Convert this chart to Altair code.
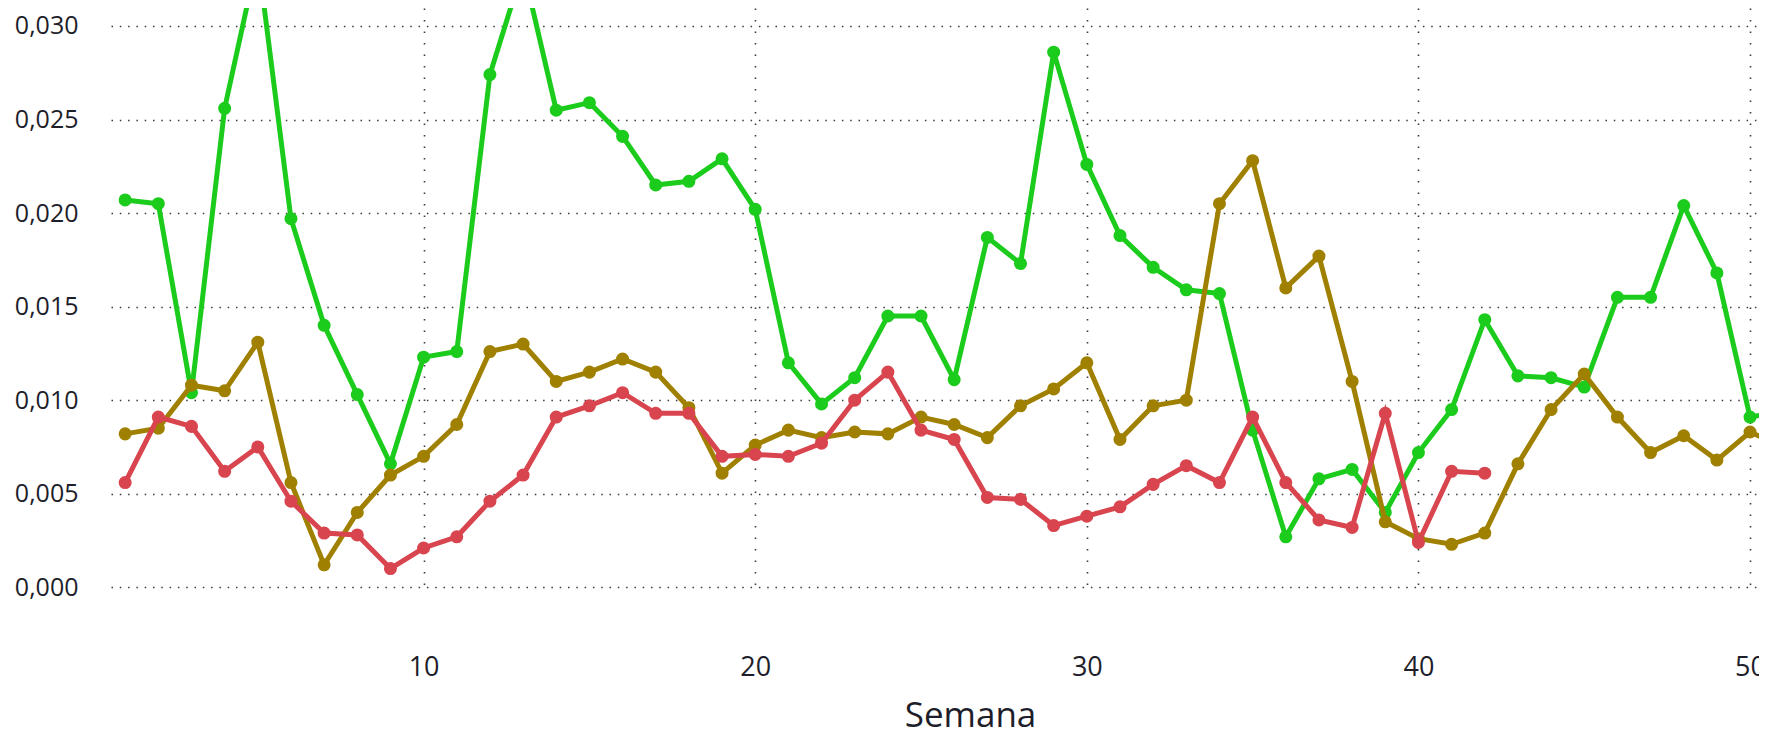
import altair as alt
import pandas as pd

weeks = list(range(1, 52))
green = [0.0207, 0.0205, 0.0104, 0.0256, 0.0337, 0.0197, 0.0140, 0.0103, 0.0066, 0.0123,
         0.0126, 0.0274, 0.0331, 0.0255, 0.0259, 0.0241, 0.0215, 0.0217, 0.0229, 0.0202,
         0.0120, 0.0098, 0.0112, 0.0145, 0.0145, 0.0111, 0.0187, 0.0173, 0.0286, 0.0226,
         0.0188, 0.0171, 0.0159, 0.0157, 0.0084, 0.0027, 0.0058, 0.0063, 0.0040, 0.0072,
         0.0095, 0.0143, 0.0113, 0.0112, 0.0107, 0.0155, 0.0155, 0.0204, 0.0168, 0.0091, 0.0094]
gold = [0.0082, 0.0085, 0.0108, 0.0105, 0.0131, 0.0056, 0.0012, 0.0040, 0.0060, 0.0070,
        0.0087, 0.0126, 0.0130, 0.0110, 0.0115, 0.0122, 0.0115, 0.0096, 0.0061, 0.0076,
        0.0084, 0.0080, 0.0083, 0.0082, 0.0091, 0.0087, 0.0080, 0.0097, 0.0106, 0.0120,
        0.0079, 0.0097, 0.0100, 0.0205, 0.0228, 0.0160, 0.0177, 0.0110, 0.0035, 0.0026,
        0.0023, 0.0029, 0.0066, 0.0095, 0.0114, 0.0091, 0.0072, 0.0081, 0.0068, 0.0083, 0.0075]
red = [0.0056, 0.0091, 0.0086, 0.0062, 0.0075, 0.0046, 0.0029, 0.0028, 0.0010, 0.0021,
       0.0027, 0.0046, 0.0060, 0.0091, 0.0097, 0.0104, 0.0093, 0.0093, 0.0070, 0.0071,
       0.0070, 0.0077, 0.0100, 0.0115, 0.0084, 0.0079, 0.0048, 0.0047, 0.0033, 0.0038,
       0.0043, 0.0055, 0.0065, 0.0056, 0.0091, 0.0056, 0.0036, 0.0032, 0.0093, 0.0024,
       0.0062, 0.0061]

x_ticks = [10, 20, 30, 40, 50]
y_ticks = [0.0, 0.005, 0.010, 0.015, 0.020, 0.025, 0.030]

FONT = "Open Sans"

x_scale = alt.Scale(domain=[0.573, 50.27], nice=False, zero=False)
y_scale = alt.Scale(domain=[0.0, 0.03096], nice=False, zero=False)

x_axis = alt.Axis(values=x_ticks, grid=True, gridColor="#3a3a3a", gridDash=[1.5, 10],
                  gridWidth=1.6, domain=False, ticks=False, tickSize=0,
                  labelFont=FONT, labelFontSize=27, labelColor="#1e1e2a",
                  labelPadding=80, labelBaseline="middle",
                  title="Semana", titleFont=FONT, titleFontSize=35,
                  titleFontWeight="normal", titleColor="#1e1e2a",
                  titleX=859, titleY=139, titleBaseline="alphabetic")
y_axis = alt.Axis(values=y_ticks, grid=True, gridColor="#3a3a3a", gridDash=[1.5, 6.8],
                  gridWidth=1.6, domain=False, ticks=False, tickSize=0,
                  labelFont=FONT, labelFontSize=25, labelColor="#1e1e2a",
                  labelPadding=33,
                  labelExpr="replace(format(datum.value, '.3f'), '.', ',')",
                  title=None)


def series(values, color):
    df = pd.DataFrame({"Semana": weeks[:len(values)], "valor": values})
    base = alt.Chart(df).encode(
        x=alt.X("Semana:Q", scale=x_scale, axis=x_axis),
        y=alt.Y("valor:Q", scale=y_scale, axis=y_axis),
    )
    line = base.mark_line(color=color, strokeWidth=5, clip=True)
    pts = base.mark_circle(color=color, size=170, opacity=1, clip=True)
    return line + pts


chart = alt.layer(
    series(green, "#1ccc1c"),
    series(gold, "#a08000"),
    series(red, "#d9454f"),
).properties(
    width=1648, height=579.3,
    autosize=alt.AutoSizeParams(type="none"),
    padding={"left": 103, "top": 0, "right": 0, "bottom": 148.7},
).configure_view(strokeWidth=0)

chart.save("out.html", embed_options={"renderer": "svg", "actions": False})
